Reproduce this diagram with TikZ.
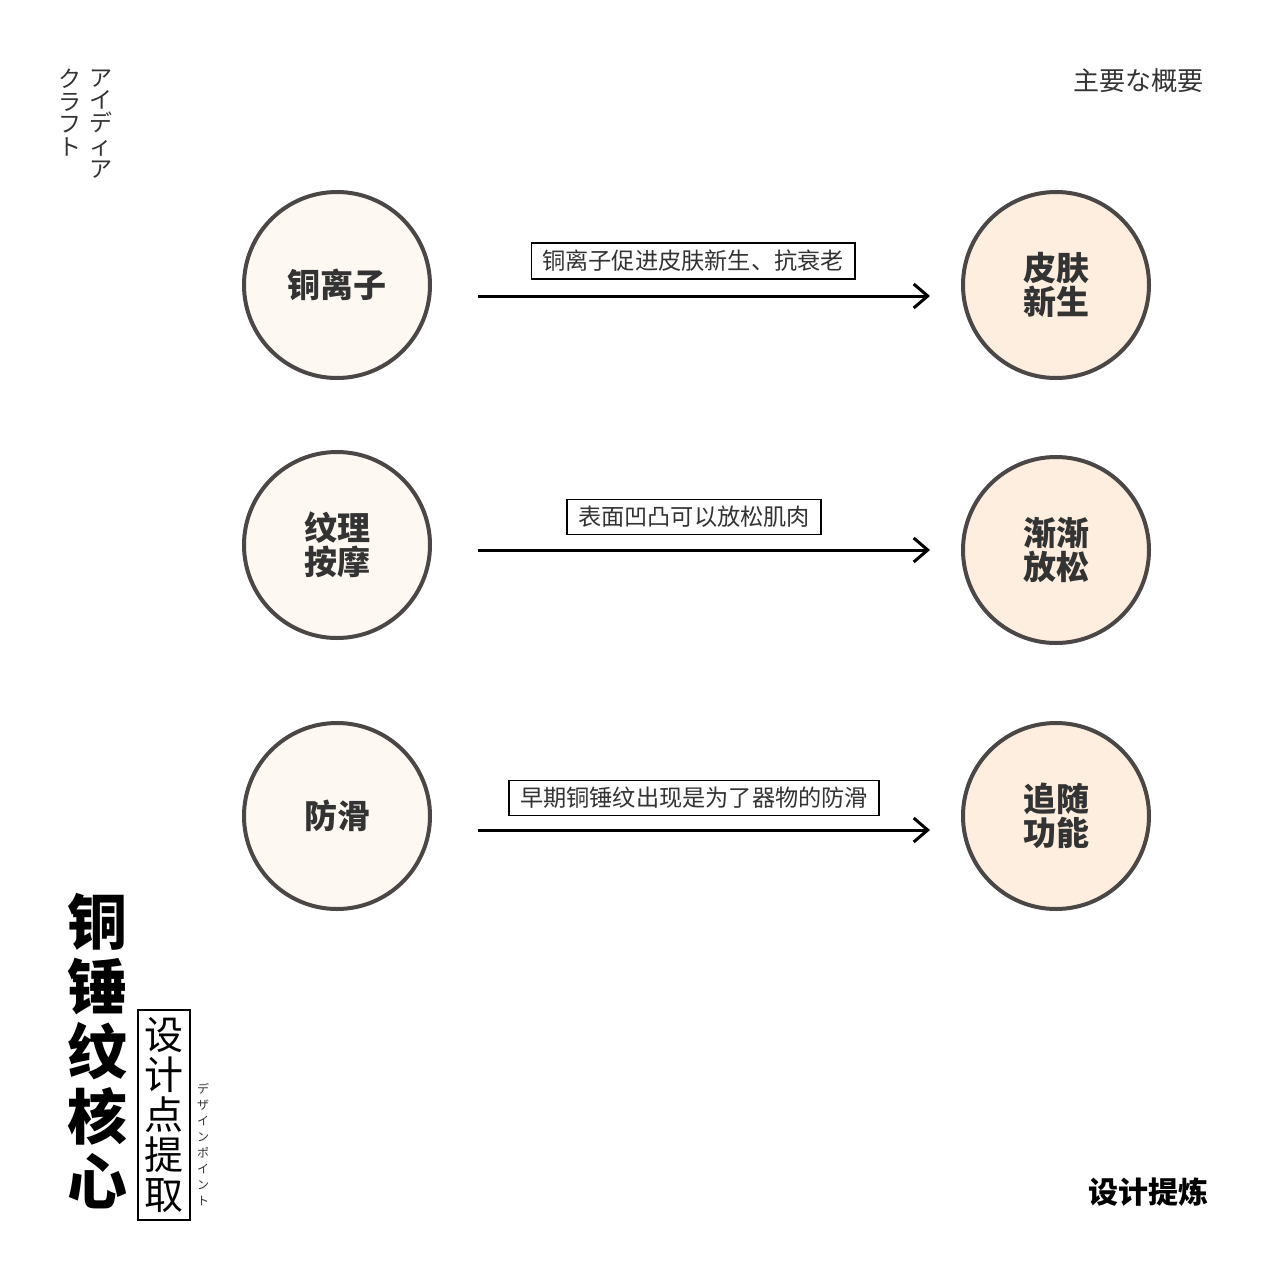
\documentclass[tikz,border=0pt]{standalone}
\usepackage{fontspec}
\newfontfamily\cjk{Noto Sans CJK SC}
\newfontfamily\jp{Noto Sans CJK JP}
\usetikzlibrary{arrows.meta}
\definecolor{ring}{HTML}{4A4746}
\definecolor{leftfill}{HTML}{FDF8F2}
\definecolor{rightfill}{HTML}{FDEEDF}
\definecolor{ink}{HTML}{333333}
\tikzset{
  srcnode/.style={circle, draw=ring, line width=2pt, fill=leftfill, minimum size=93pt, inner sep=0pt,
     text=ink, align=center, font=\cjk\bfseries\fontsize{16.5pt}{17pt}\selectfont},
  dstnode/.style={srcnode, fill=rightfill},
  tagbox/.style={draw=black, line width=0.7pt, fill=white, inner xsep=5.5pt, inner ysep=3.5pt,
     font=\cjk\fontsize{11.6pt}{12pt}\selectfont, text=ink},
  flow/.style={line width=1.5pt, -{Straight Barb[length=7pt,width=12pt,line width=1.5pt]}},
  vert/.style={align=center, inner sep=0pt}
}
\begin{document}
\begin{tikzpicture}[x=0.5pt,y=-0.5pt]
\useasboundingbox (0,0) rectangle (1280,1280);
% corner texts
\node[vert, font=\jp\fontsize{11.5pt}{11.4pt}\selectfont, text=ink, anchor=north] (ideaA) at (101,69) {ア\\イ\\デ\\ィ\\ア};
\node[vert, font=\jp\fontsize{11.5pt}{11.2pt}\selectfont, text=ink, anchor=north] (ideaB) at (70,69) {ク\\ラ\\フ\\ト};
\node[font=\jp\fontsize{13pt}{13pt}\selectfont, text=ink, anchor=east] (summary) at (1211,81) {主要な概要};
\node[font=\cjk\bfseries\fontsize{15pt}{15pt}\selectfont, text=black, anchor=east] (refine) at (1216,1192) {设计提炼};
% circles
\node[srcnode] (a1) at (337,285) {铜离子};
\node[dstnode] (b1) at (1056,285) {皮肤\\新生};
\node[srcnode] (a2) at (337,545) {纹理\\按摩};
\node[dstnode] (b2) at (1056,550) {渐渐\\放松};
\node[srcnode] (a3) at (337,816) {防滑};
\node[dstnode] (b3) at (1056,816) {追随\\功能};
% arrow end points
\coordinate (s1) at (478,296); \coordinate (e1) at (930,296);
\coordinate (s2) at (478,550); \coordinate (e2) at (930,550);
\coordinate (s3) at (478,830); \coordinate (e3) at (930,830);
\draw[flow] (s1) -- (e1);
\draw[flow] (s2) -- (e2);
\draw[flow] (s3) -- (e3);
% labels
\node[tagbox] (t1) at (693,261) {铜离子促进皮肤新生、抗衰老};
\node[tagbox] (t2) at (694,517) {表面凹凸可以放松肌肉};
\node[tagbox] (t3) at (694,798) {早期铜锤纹出现是为了器物的防滑};
% title block
\node[vert, font=\cjk\bfseries\fontsize{30pt}{32.5pt}\selectfont, text=black, anchor=north] (title) at (97,893) {铜\\锤\\纹\\核\\心};
\node[draw=black, line width=0.7pt, align=center, inner xsep=3pt, inner ysep=3pt,
      font=\cjk\fontsize{19.5pt}{20pt}\selectfont, text=black, minimum width=26pt, minimum height=105pt] (sub) at (164,1115) {设\\计\\点\\提\\取};
\node[vert, font=\jp\fontsize{6pt}{8pt}\selectfont, text=ink, anchor=north] (design) at (203,1083) {デ\\ザ\\イ\\ン\\ポ\\イ\\ン\\ト};
\end{tikzpicture}
\end{document}
